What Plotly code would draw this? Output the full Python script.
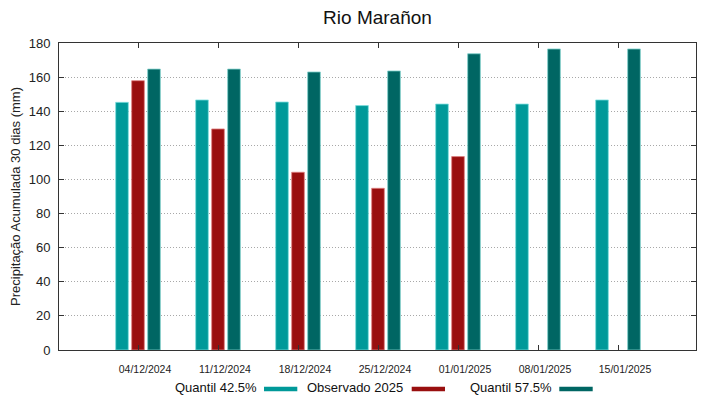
import plotly.graph_objects as go

dates = ["04/12/2024", "11/12/2024", "18/12/2024", "25/12/2024", "01/01/2025", "08/01/2025", "15/01/2025"]
q425 = [145.2, 146.6, 145.4, 143.3, 144.2, 144.2, 146.6]
obs2025 = [157.9, 129.6, 104.2, 94.8, 113.4, None, None]
q575 = [164.7, 164.7, 163.0, 163.6, 173.7, 176.5, 176.5]
yticks = [0, 20, 40, 60, 80, 100, 120, 140, 160, 180]

series = [
    ("Quantil 42.5%", q425, "#009999", "#7fdede"),
    ("Observado 2025", obs2025, "#990f0f", "#e08080"),
    ("Quantil 57.5%", q575, "#006663", "#7fd0cc"),
]

xs = list(range(len(dates)))
fig = go.Figure()
for name, vals, col, edge in series:
    fig.add_trace(go.Bar(x=xs, y=vals, name=name, marker=dict(color=col, line=dict(color=edge, width=0.8)),
                         showlegend=False))

font = "Liberation Sans, Arial, sans-serif"
# page body has an 8px margin; figure is sized/offset to compensate
fig.update_layout(
    width=711, height=391,
    margin=dict(l=51, r=23, t=35, b=49, autoexpand=False),
    paper_bgcolor="white", plot_bgcolor="white",
    barmode="group", bargap=0.4, bargroupgap=0.21,
    font=dict(family=font, color="#222"),
    title=dict(text="Rio Marañon", x=0.5197, xanchor="center", y=0.977, yanchor="middle",
               font=dict(size=19, color="#111")),
    xaxis=dict(range=[-0.9875, 6.975], tickvals=xs, ticktext=dates, tickfont=dict(size=10.5),
               ticklabelshift=7, ticklabelstandoff=9, automargin=False,
               showline=True, linecolor="#333", linewidth=1, mirror="ticks",
               ticks="inside", ticklen=5, tickcolor="#333", showgrid=False, zeroline=False),
    yaxis=dict(range=[0, 180], tickvals=yticks, tickfont=dict(size=13), ticklabelstandoff=5,
               automargin=False,
               showline=True, linecolor="#333", linewidth=1, mirror="ticks",
               ticks="inside", ticklen=5, tickcolor="#333",
               showgrid=True, gridcolor="#a8a8a8", griddash="1px,2px", gridwidth=1, zeroline=False,
               title=dict(text="Precipitação Acumulada 30 dias (mm)", font=dict(size=13), standoff=6)),
)

# gnuplot-style legend: text then swatch
def px(x):
    return (x - 59) / 637

def py(y):
    return (350 - y) / 307

legend_pos = [(256.7, 264, 297.3), (403, 411.7, 445), (551.7, 559.3, 592.7)]
for (name, vals, col, edge), (tx, s0, s1) in zip(series, legend_pos):
    fig.add_annotation(text=name, xref="paper", yref="paper", x=px(tx), y=py(387.5),
                       xanchor="right", yanchor="middle", showarrow=False, xshift=2,
                       font=dict(size=13, color="#111"))
    fig.add_shape(type="rect", xref="paper", yref="paper", x0=px(s0), x1=px(s1),
                  y0=py(386.7), y1=py(391.3), fillcolor=col, line=dict(width=0))

fig.write_html("out.html")
